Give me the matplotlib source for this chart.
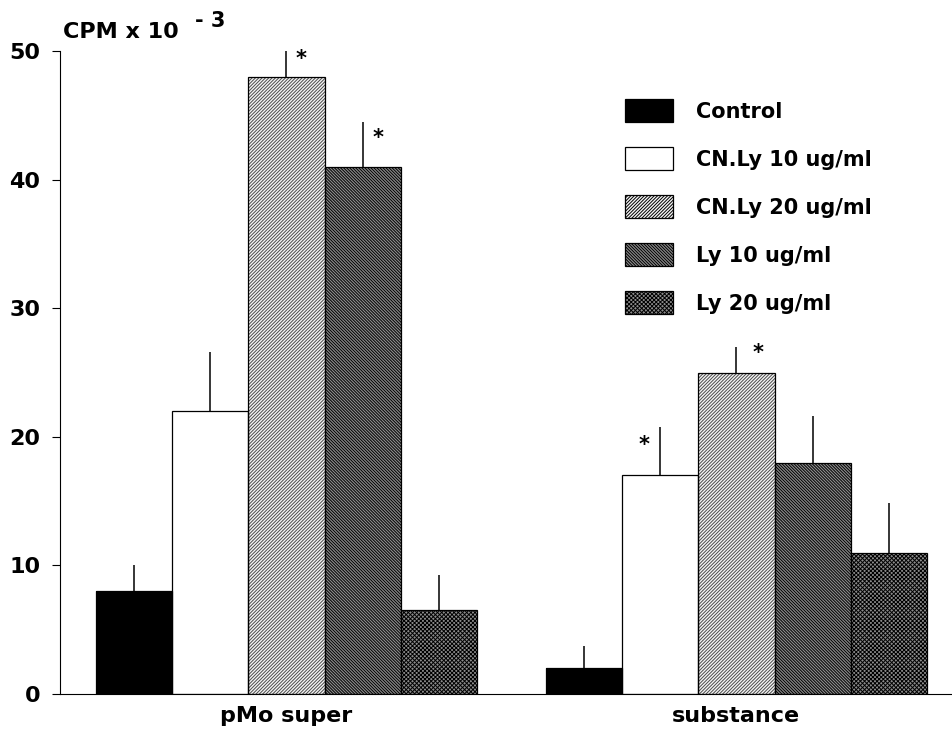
import numpy as np
import matplotlib
matplotlib.use("Agg")
import matplotlib.pyplot as plt

# data (CPM x 10^-3)
groups = ["pMo super", "substance"]
treatments = ["Control", "CN.Ly 10 ug/ml", "CN.Ly 20 ug/ml", "Ly 10 ug/ml", "Ly 20 ug/ml"]
pmo_values = [8.0, 22.0, 48.0, 41.0, 6.5]
pmo_errors = [2.0, 4.6, 2.5, 3.5, 2.75]
sub_values = [2.0, 17.0, 25.0, 18.0, 11.0]
sub_errors = [1.7, 3.8, 2.0, 3.6, 3.85]
# significance stars: (group index, treatment index)
stars = [(0, 2), (0, 3), (1, 1), (1, 2)]
star_dx = [0.19, 0.2, -0.21, 0.28]   # left/right of the error bar, in bar widths
star_dy = [-1.1, -1.25, -1.45, -0.45]   # below the error bar top, in data units

plt.rcParams['font.family'] = ['DejaVu Sans']
plt.rcParams['hatch.linewidth'] = 0.7

fig = plt.figure(figsize=(9.53, 7.33), dpi=100)
ax = fig.add_axes([60/953, 39/733, 1 - 60/953, (694-51)/733])

faces = ['black', 'white', '#f4f4f4', '#8c8c8c', '#8c8c8c']
hatch_cols = ['black', 'black', '#4a4a4a', 'black', 'black']
hatches = [None, None, '/' * 10, '\\' * 11, 'x' * 8]

group_x = np.array([0.0, 5.9])
values = np.array([pmo_values, sub_values])
errors = np.array([pmo_errors, sub_errors])
width = 1.0

handles = []
for i, name in enumerate(treatments):
    xs = group_x + (i - 2) * width
    # hatch takes the edge colour, so draw fill+hatch first and the black outline on top
    ax.bar(xs, values[:, i], width=width, color=faces[i], edgecolor=hatch_cols[i],
           linewidth=0, hatch=hatches[i], zorder=2)
    ax.bar(xs, values[:, i], width=width, fill=False, edgecolor='black',
           linewidth=0.9, zorder=2.5)
    ax.errorbar(xs, values[:, i], yerr=[np.zeros(2), errors[:, i]], fmt='none',
                ecolor='black', elinewidth=1.1, capsize=0, zorder=3)
    h = plt.Rectangle((0, 0), 1, 1, facecolor=faces[i], edgecolor=hatch_cols[i],
                      hatch=hatches[i], linewidth=0.9)
    handles.append(h)

for (g, t), dx, dy in zip(stars, star_dx, star_dy):
    x = group_x[g] + (t - 2) * width + dx
    y = values[g, t] + errors[g, t] + dy
    ax.text(x, y, '*', ha='center', va='center', fontsize=15, fontweight='bold')

ax.set_xlim(-2.97, 8.74)
ax.set_ylim(0, 50)
ax.set_yticks([0, 10, 20, 30, 40, 50])
ax.set_xticks(group_x)
ax.set_xticklabels(groups)
ax.tick_params(axis='y', direction='out', length=6, width=0.8, pad=8, labelsize=16)
ax.tick_params(axis='x', length=0, pad=9, labelsize=16)
for lab in ax.get_yticklabels() + ax.get_xticklabels():
    lab.set_fontweight('bold')
ax.spines['top'].set_visible(False)
ax.spines['right'].set_visible(False)
ax.spines['left'].set_linewidth(0.8)
ax.spines['bottom'].set_linewidth(0.8)
ax.patch.set_alpha(0)

fig.text(63/953, 1 - 38/733, 'CPM x 10', fontsize=16, fontweight='bold', ha='left', va='baseline')
fig.text(195/953, 1 - 27/733, '- 3', fontsize=15, fontweight='bold', ha='left', va='baseline')

leg = ax.legend(handles, treatments, loc='upper left', bbox_to_anchor=(625/953, 1 - 99/733),
                bbox_transform=fig.transFigure, frameon=False, borderpad=0,
                borderaxespad=0, fontsize=15, handlelength=2.3, handleheight=1.35,
                labelspacing=1.18, handletextpad=1.1)
for t in leg.get_texts():
    t.set_fontweight('bold')
# keep the black outline on legend keys with grey hatching
for h in leg.legend_handles:
    h.set_edgecolor('black')

fig.savefig('out.png', dpi=100)
